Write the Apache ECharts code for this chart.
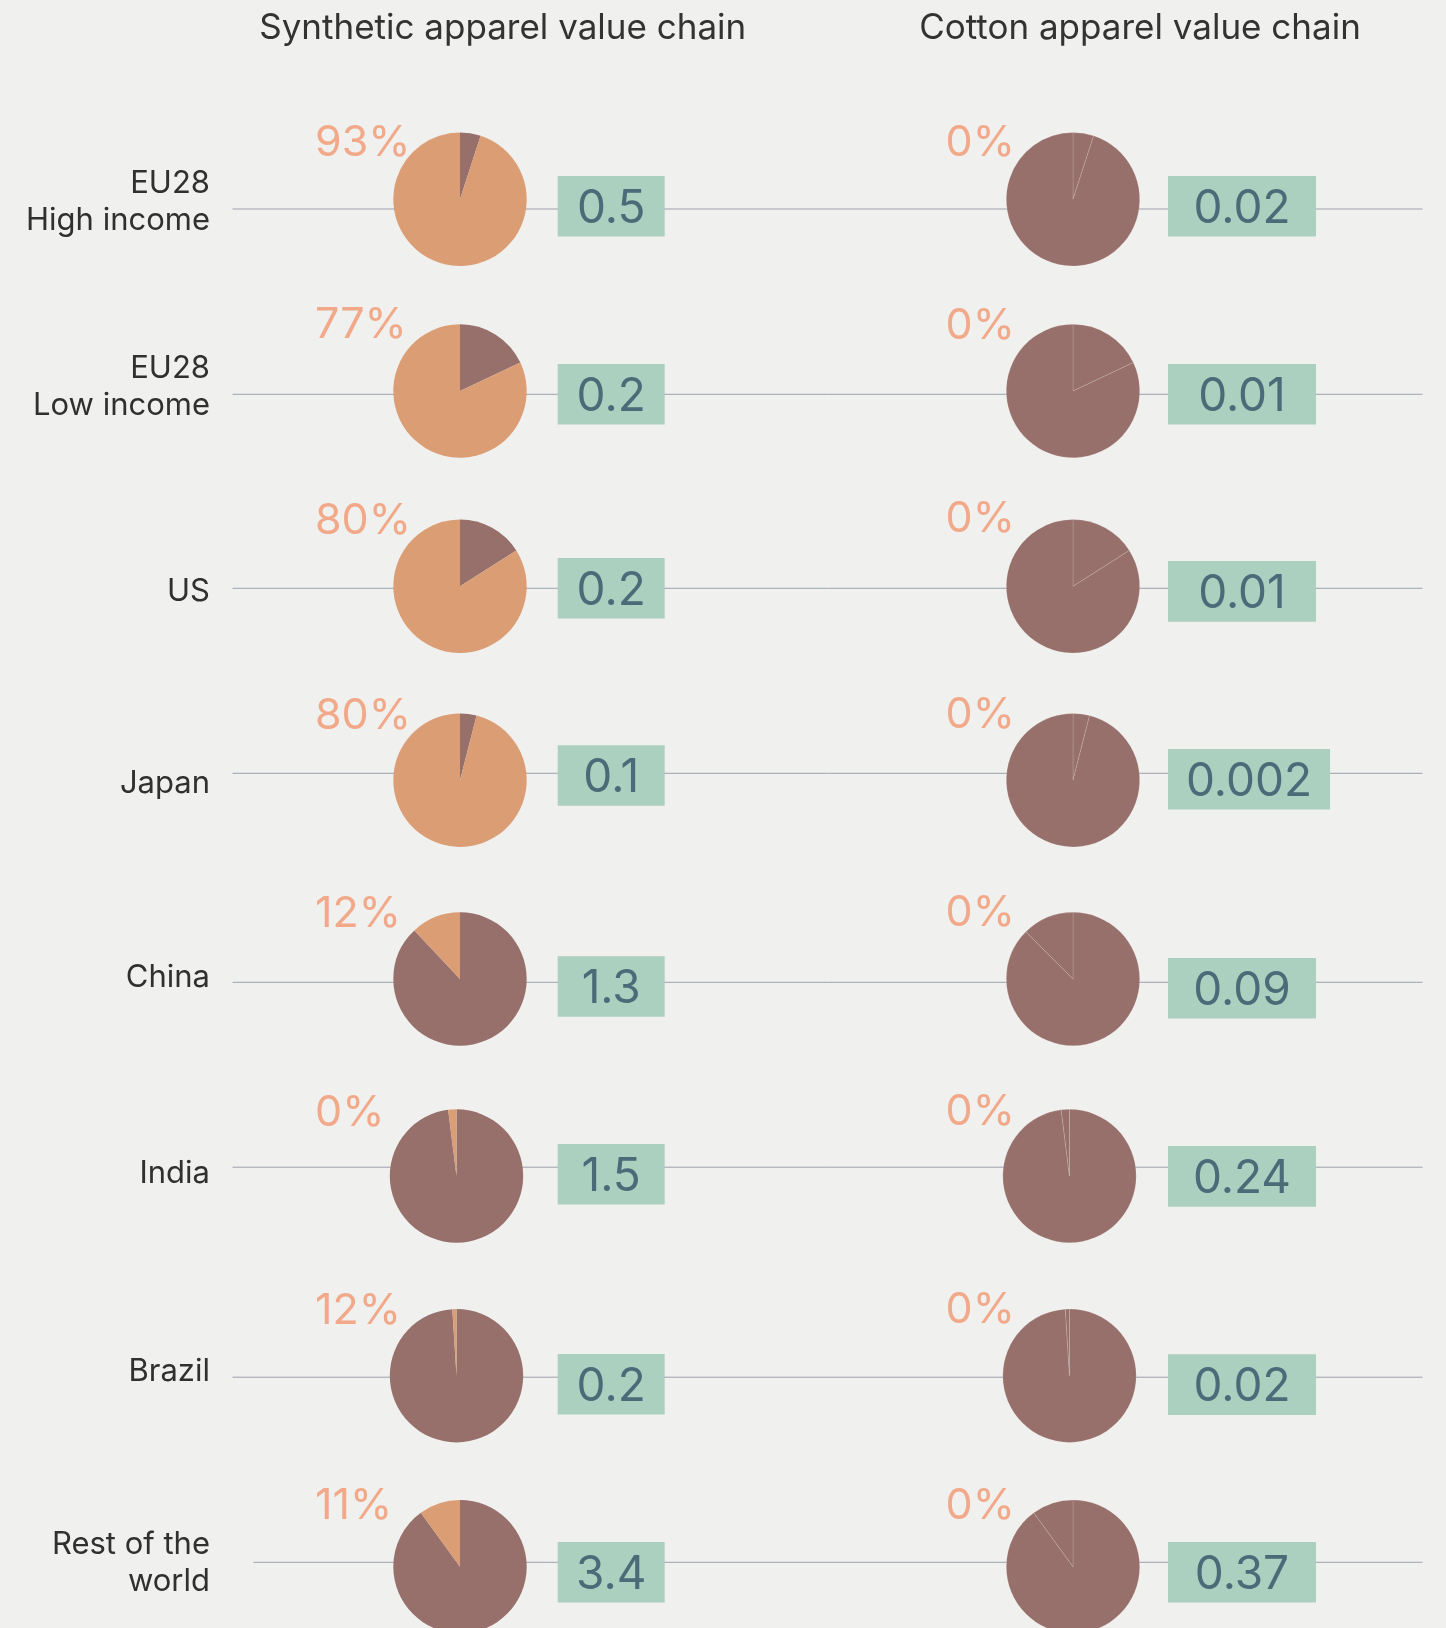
<!DOCTYPE html>
<html>
<head>
  <meta charset="utf-8">
  <script src="https://cdn.jsdelivr.net/npm/echarts@6/dist/echarts.min.js"></script>
  <style>
    html, body { margin: 0; padding: 0; background: #f0f0ee; }
    #main { width: 1446px; height: 1628px; }
  </style>
</head>
<body>
  <div id="main"></div>
  <script>
    // data
    var titles = ['Synthetic apparel value chain', 'Cotton apparel value chain'];
    var regions = ['EU28\nHigh income', 'EU28\nLow income', 'US', 'Japan', 'China', 'India', 'Brazil', 'Rest of the\nworld'];
    var synthPct = [93, 77, 80, 80, 12, 0, 12, 11];
    var cottonPct = [0, 0, 0, 0, 0, 0, 0, 0];
    var synthValue = [0.5, 0.2, 0.2, 0.1, 1.3, 1.5, 0.2, 3.4];
    var cottonValue = [0.02, 0.01, 0.01, 0.002, 0.09, 0.24, 0.02, 0.37];
    // share of the light (orange) slice drawn in each pie
    var synthSlice = [95, 82, 84, 96, 12, 2, 1, 10];
    var cottonSlice = [95, 82, 84, 96, 12.5, 2, 1, 10];

    // layout (pixels)
    var lineY = [209, 394.3, 588.3, 773.3, 982.3, 1167.2, 1377.2, 1562.3];
    var lineX0 = [232.5, 232.5, 232.5, 232.5, 232.5, 232.5, 232.5, 253.5];
    var pieY = [199.3, 391, 586.3, 780.2, 979, 1176, 1375.7, 1566.7];
    var pieDx = [0, 0, 0, 0, 0, -3.5, -3.5, 0];
    var boxY = [[206.3, 394.3, 588.3, 775.5, 986.5, 1174.3, 1384.3, 1572.3],
                [206.3, 394.3, 591.4, 779.3, 988.2, 1176.4, 1384.6, 1572.3]];
    var pctTop = [[124, 306, 501.7, 697.3, 895, 1094, 1292.3, 1486.7],
                  [124, 306.8, 500.4, 696, 893.6, 1093, 1290.7, 1487.3]];
    var labelY = [200.1, 385.4, 589.5, 782, 975.9, 1171.7, 1369.5, 1560.9];

    var colX = [{ pie: 460, box: 557.7, pct: 315, minBox: 107, title: 502.7 },
                { pie: 1073, box: 1168, pct: 945.5, minBox: 148, title: 1140 }];

    var ORANGE = '#db9d73', BROWN = '#98706b';
    var FONT = 'Inter, "Noto Sans", sans-serif';

    var ctx = document.createElement('canvas').getContext('2d');
    ctx.font = '46px Inter';
    function boxWidth(txt, minW) {
      return Math.max(minW, ctx.measureText(txt).width + 36);
    }

    var series = [];
    var graphics = [];

    titles.forEach(function (t, c) {
      graphics.push({
        type: 'text', z: 50,
        style: { text: t, x: colX[c].title, y: 28, align: 'center', verticalAlign: 'middle',
          fill: '#333333', font: '35px ' + FONT }
      });
    });

    regions.forEach(function (name, i) {
      graphics.push({
        type: 'line', z: 0,
        shape: { x1: lineX0[i], y1: lineY[i], x2: 1422.5, y2: lineY[i] },
        style: { stroke: '#9ca1ab', lineWidth: 1 }
      });
      graphics.push({
        type: 'text', z: 50,
        style: { text: name, x: 210, y: labelY[i] + 2, align: 'right', verticalAlign: 'middle',
          fill: '#303030', font: '31px ' + FONT, lineHeight: 37 }
      });

      [[synthPct, synthValue, synthSlice, [BROWN, ORANGE]],
       [cottonPct, cottonValue, cottonSlice, [BROWN, BROWN]]].forEach(function (col, c) {
        var pct = col[0][i], val = col[1][i], slice = col[2][i];
        series.push({
          type: 'pie',
          silent: true,
          animation: false,
          center: [colX[c].pie + pieDx[i], pieY[i]],
          radius: 66.7,
          startAngle: 90,
          clockwise: true,
          label: { show: false },
          labelLine: { show: false },
          itemStyle: c === 1 ? { borderColor: 'rgba(255,255,255,0.18)', borderWidth: 0.8 } : { borderWidth: 0 },
          data: [
            { value: 100 - slice, itemStyle: { color: col[3][0] } },
            { value: slice, itemStyle: { color: col[3][1] } }
          ]
        });

        graphics.push({
          type: 'text', z: 50,
          style: { text: pct + '%', x: colX[c].pct, y: pctTop[c][i] + 19, align: 'left', verticalAlign: 'middle',
            fill: '#f1a98a', font: '43px ' + FONT }
        });

        var txt = String(val);
        var w = boxWidth(txt, colX[c].minBox);
        graphics.push({
          type: 'rect', z: 40,
          shape: { x: colX[c].box, y: boxY[c][i] - 30.3, width: w, height: 60.6 },
          style: { fill: '#abd0bf' }
        });
        graphics.push({
          type: 'text', z: 50,
          style: { text: txt, x: colX[c].box + w / 2, y: boxY[c][i] + 3, align: 'center', verticalAlign: 'middle',
            fill: '#4a6c78', font: '46px ' + FONT }
        });
      });
    });

    var myChart = echarts.init(document.getElementById('main'));
    myChart.setOption({
      backgroundColor: '#f0f0ee',
      animation: false,
      series: series,
      graphic: { elements: graphics }
    });
  </script>
</body>
</html>
